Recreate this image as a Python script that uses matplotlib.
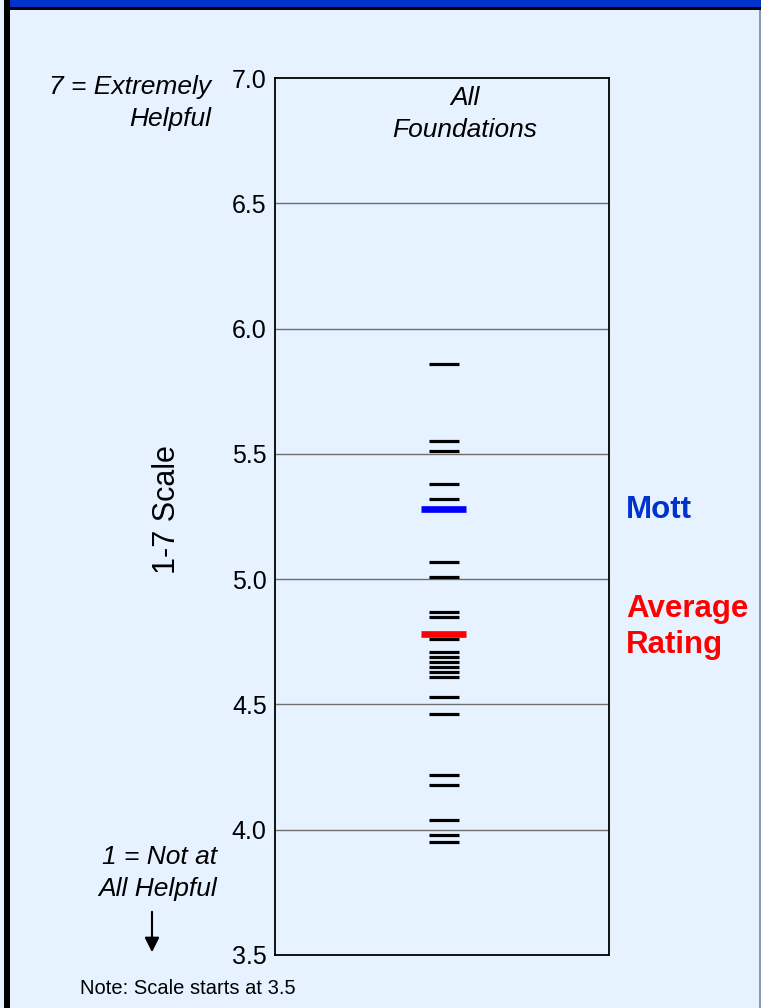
import matplotlib
matplotlib.use("Agg")
import matplotlib.pyplot as plt
from matplotlib.patches import Rectangle, FancyArrowPatch

# ---- data ----
foundation_ratings = [5.86, 5.55, 5.51, 5.38, 5.32, 5.07, 5.01, 4.87, 4.85,
                      4.76, 4.71, 4.69, 4.67, 4.65, 4.63, 4.61, 4.53, 4.46,
                      4.22, 4.18, 4.04, 3.98, 3.95]
mott_rating = 5.28
average_rating = 4.78
y_ticks = [3.5, 4.0, 4.5, 5.0, 5.5, 6.0, 6.5, 7.0]
y_tick_labels = ["3.5", "4.0", "4.5", "5.0", "5.5", "6.0", "6.5", "7.0"]

plt.rcParams['font.family'] = ['Liberation Sans', 'DejaVu Sans']

W, H = 761, 1008
fig = plt.figure(figsize=(W / 100, H / 100), dpi=100)
bg = '#E6F2FF'
fig.patch.set_facecolor(bg)

# decorations: header bar, black line, left border, right gray line
fig.add_artist(Rectangle((10 / W, 1 - 7.5 / H), 1, 7.5 / H, transform=fig.transFigure,
                         facecolor='#0033CC', edgecolor='none'))
fig.add_artist(Rectangle((4 / W, 1 - 9.5 / H), 1, 2.2 / H, transform=fig.transFigure,
                         facecolor='black', edgecolor='none'))
fig.add_artist(Rectangle((4 / W, 0), 6 / W, 1, transform=fig.transFigure,
                         facecolor='black', edgecolor='none'))
fig.add_artist(Rectangle((759 / W, 0), 2 / W, 1 - 9.5 / H, transform=fig.transFigure,
                         facecolor='#8a9aaa', edgecolor='none'))

# main axes
left, right, top, bottom = 275, 609, 78, 955
ax = fig.add_axes([left / W, 1 - bottom / H, (right - left) / W, (bottom - top) / H])
ax.set_facecolor(bg)
ax.set_ylim(3.5, 7.0)
ax.set_xlim(0, 1)
ax.set_yticks(y_ticks)
ax.set_yticklabels(y_tick_labels, fontsize=18)
ax.set_xticks([])
ax.tick_params(axis='y', length=0, pad=6)
for s in ax.spines.values():
    s.set_color('black')
    s.set_linewidth(1.3)

for v in y_ticks[1:-1]:
    ax.axhline(v, color='#6e6e6e', linewidth=1.0, zorder=1)

ax.hlines(foundation_ratings, 0.461, 0.551, colors='black', linewidth=2.3, zorder=3)
ax.hlines([mott_rating], 0.437, 0.572, colors='#0000FF', linewidth=4.8, zorder=4)
ax.hlines([average_rating], 0.437, 0.572, colors='#FF0000', linewidth=4.8, zorder=4)

def ftxt(x, y, s, **kw):
    fig.text(x / W, 1 - y / H, s, **kw)

ftxt(465, 98, "All", fontsize=19, style='italic', ha='center', va='center')
ftxt(465, 130, "Foundations", fontsize=19, style='italic', ha='center', va='center')

ftxt(211, 87, "7 = Extremely", fontsize=19, style='italic', ha='right', va='center')
ftxt(211, 119, "Helpful", fontsize=19, style='italic', ha='right', va='center')

ftxt(217, 857, "1 = Not at", fontsize=19, style='italic', ha='right', va='center')
ftxt(217, 889, "All Helpful", fontsize=19, style='italic', ha='right', va='center')

ftxt(167, 510, "1-7 Scale", fontsize=22, rotation=90, ha='center', va='center')

ftxt(626, 510, "Mott", fontsize=22.5, fontweight='bold', color='#0033CC', ha='left', va='center')
ftxt(626, 609, "Average", fontsize=22.5, fontweight='bold', color='#FF0000', ha='left', va='center')
ftxt(626, 645, "Rating", fontsize=22.5, fontweight='bold', color='#FF0000', ha='left', va='center')

ftxt(80, 988, "Note: Scale starts at 3.5", fontsize=14.5, ha='left', va='center')

arrow = FancyArrowPatch((152 / W, 1 - 909 / H), (152 / W, 1 - 955 / H),
                        transform=fig.transFigure, arrowstyle='-|>',
                        mutation_scale=22, color='black', linewidth=1.5)
fig.add_artist(arrow)

fig.savefig('out.png', dpi=100, facecolor=bg)
